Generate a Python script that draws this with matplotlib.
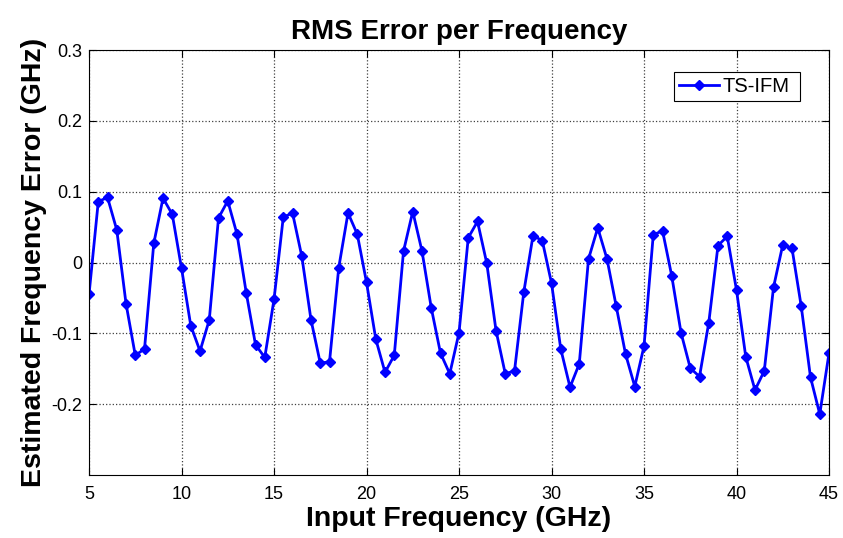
import numpy as np
import matplotlib.pyplot as plt

plt.rcParams['font.family'] = ['Liberation Sans', 'DejaVu Sans']

# input frequency grid (GHz), 0.5 GHz steps
freq = np.arange(5.0, 45.01, 0.5)

# estimated frequency error (GHz)
err = [
    -0.045, 0.086, 0.092, 0.046, -0.058, -0.131, -0.122, 0.027, 0.091, 0.068,
    -0.008, -0.089, -0.125, -0.081, 0.063, 0.087, 0.040, -0.043, -0.116, -0.134,
    -0.052, 0.064, 0.070, 0.009, -0.081, -0.142, -0.140, -0.007, 0.070, 0.040,
    -0.028, -0.108, -0.155, -0.131, 0.016, 0.072, 0.016, -0.064, -0.128, -0.157,
    -0.099, 0.035, 0.058, -0.001, -0.096, -0.157, -0.153, -0.042, 0.038, 0.031,
    -0.029, -0.122, -0.176, -0.143, 0.005, 0.049, 0.005, -0.062, -0.129, -0.175,
    -0.118, 0.039, 0.045, -0.019, -0.099, -0.149, -0.161, -0.085, 0.024, 0.037,
    -0.039, -0.133, -0.180, -0.153, -0.035, 0.025, 0.020, -0.062, -0.162, -0.214,
    -0.128,
]

xticks = [5, 10, 15, 20, 25, 30, 35, 40, 45]
yticks = [-0.2, -0.1, 0, 0.1, 0.2, 0.3]
ytick_labels = ["-0.2", "-0.1", "0", "0.1", "0.2", "0.3"]

fig = plt.figure(figsize=(8.43, 5.38), dpi=100)
ax = fig.add_axes([0.1056, 0.117, 0.8778, 0.790])

ax.plot(freq, err, "-D", color="#0000ff", lw=2, ms=5.5, label="TS-IFM")

ax.set_xlim(5, 45)
ax.set_ylim(-0.3, 0.3)
ax.set_xticks(xticks)
ax.set_yticks(yticks)
ax.set_yticklabels(ytick_labels)
ax.tick_params(direction="in", top=True, right=True, labelsize=13, length=5)
ax.tick_params(axis="y", pad=5)
ax.tick_params(axis="x", pad=8)
ax.grid(True, linestyle=":", color="#404040", lw=0.9)
for s in ax.spines.values():
    s.set_linewidth(0.8)

ax.set_title("RMS Error per Frequency", fontsize=20, fontweight="bold", pad=8)
ax.set_xlabel("Input Frequency (GHz)", fontsize=20.5, fontweight="bold", labelpad=2)
ax.set_ylabel("Estimated Frequency Error (GHz)", fontsize=20.5, fontweight="bold", labelpad=3)

# legend box placed like the MATLAB one (upper right, inset)
leg = ax.legend(loc="upper right", bbox_to_anchor=(0.79, 0.948, 0.171, 0.0),
                mode="expand", fontsize=14.5, fancybox=False, framealpha=1,
                edgecolor="black", handlelength=2.0, handletextpad=0.2,
                borderpad=0.25, borderaxespad=0)
leg.get_frame().set_linewidth(0.8)

fig.savefig("out.png", dpi=100)
